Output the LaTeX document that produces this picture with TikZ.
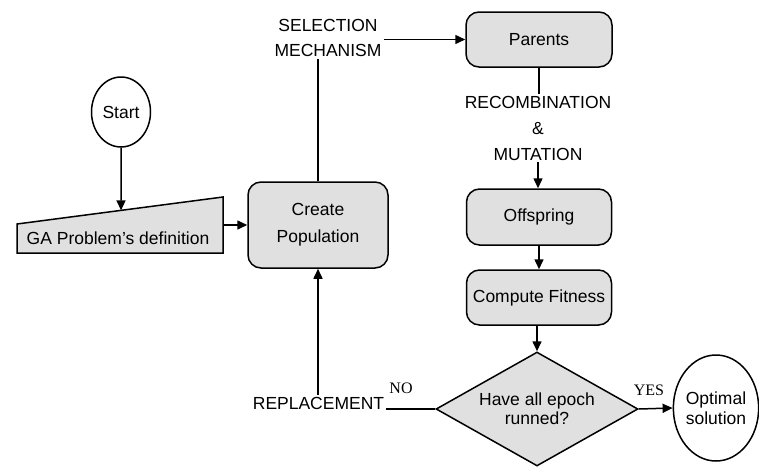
\documentclass[tikz,border=0pt]{standalone}
\usepackage{fontspec}
\setmainfont{Liberation Sans}
\newfontfamily\ynfont{Liberation Serif}
\usetikzlibrary{shapes.geometric,arrows.meta,calc}
\definecolor{boxgray}{gray}{0.88}
\begin{document}
\begin{tikzpicture}[x=1pt,y=-1pt,
  txt/.style={font=\fontsize{17.5}{21}\selectfont, align=center, inner sep=2pt},
  box/.style={txt, draw, fill=boxgray, rounded corners=13pt, line width=1.5pt, inner sep=0pt},
  oval/.style={txt, draw, ellipse, fill=white, line width=1.5pt, inner sep=0pt},
  yn/.style={font=\ynfont\fontsize{16}{18}\selectfont, inner sep=0pt},
  arr/.style={-{Triangle[length=10pt,width=9pt]}, line width=1.5pt},
  ln/.style={line width=1.5pt}]
\useasboundingbox (0,0) rectangle (759,466);

% start
\node[oval, minimum width=59pt, minimum height=70pt] (start) at (121,112) {Start};

% GA problem definition (manual input shape)
\coordinate (gaBL) at (17,253);
\coordinate (gaBR) at (223,253);
\coordinate (gaTR) at (223,197);
\coordinate (gaTL) at (17,224);
\draw[ln, fill=boxgray] (gaBL) -- (gaBR) -- (gaTR) -- (gaTL) -- cycle;
\node[txt] (ga) at (118,238) {GA Problem's definition};
\coordinate (gaTop) at ($(gaTL)!0.505!(gaTR)$);
\coordinate (gaRight) at (223,225);

% create population
\node[box, minimum width=140pt, minimum height=86pt, font=\fontsize{17.5}{27}\selectfont] (cp) at (318,225) {Create\\Population};

% selection label
\node[txt, font=\fontsize{17.5}{25}\selectfont] (sel) at (328,38) {SELECTION\\MECHANISM};

% parents etc.
\node[box, minimum width=146pt, minimum height=55pt] (par) at (539,39.5) {Parents};
\node[txt, font=\fontsize{17.5}{26}\selectfont] (rec) at (538,128) {RECOMBINATION\\\&\\MUTATION};
\node[box, minimum width=145pt, minimum height=56pt] (off) at (539,217) {Offspring};
\node[box, minimum width=145pt, minimum height=55pt] (cf) at (539,297.5) {Compute Fitness};

% decision
\node[txt, diamond, draw, fill=boxgray, line width=1.5pt, inner sep=0pt, aspect=1.77,
      minimum width=202pt, minimum height=114pt, font=\fontsize{17.5}{19}\selectfont] (dia) at (537,409) {Have all epoch\\runned?};

% optimal solution
\node[oval, minimum width=82pt, minimum height=106pt, font=\fontsize{17.5}{20}\selectfont] (opt) at (716,408) {Optimal\\solution};

% replacement
\node[txt, anchor=base] (rep) at (318.5,409) {REPLACEMENT};

% yes/no
\node[yn] (no) at (401,388) {NO};
\node[yn] (yes) at (649,390) {YES};

% connectors
\draw[arr] (start.south) -- (gaTop);
\draw[arr] (gaRight) -- (cp.west);
\draw[ln] (cp.north) -- (cp.north |- sel.south);
\draw[arr] (sel.east |- par.west) -- (par.west);
\draw[ln] (par.south) -- (par.south |- rec.north);
\draw[arr] (rec.south) -- (rec.south |- off.north);
\draw[arr] (off.south) -- (cf.north);
\draw[arr] (cf.south -| dia.north) -- (dia.north);
\draw[arr] (dia.east) -- (opt.west);
\draw[ln] (dia.west) -- (rep.base east);
\draw[arr] (rep.north -| cp.south) -- (cp.south);
\end{tikzpicture}
\end{document}
